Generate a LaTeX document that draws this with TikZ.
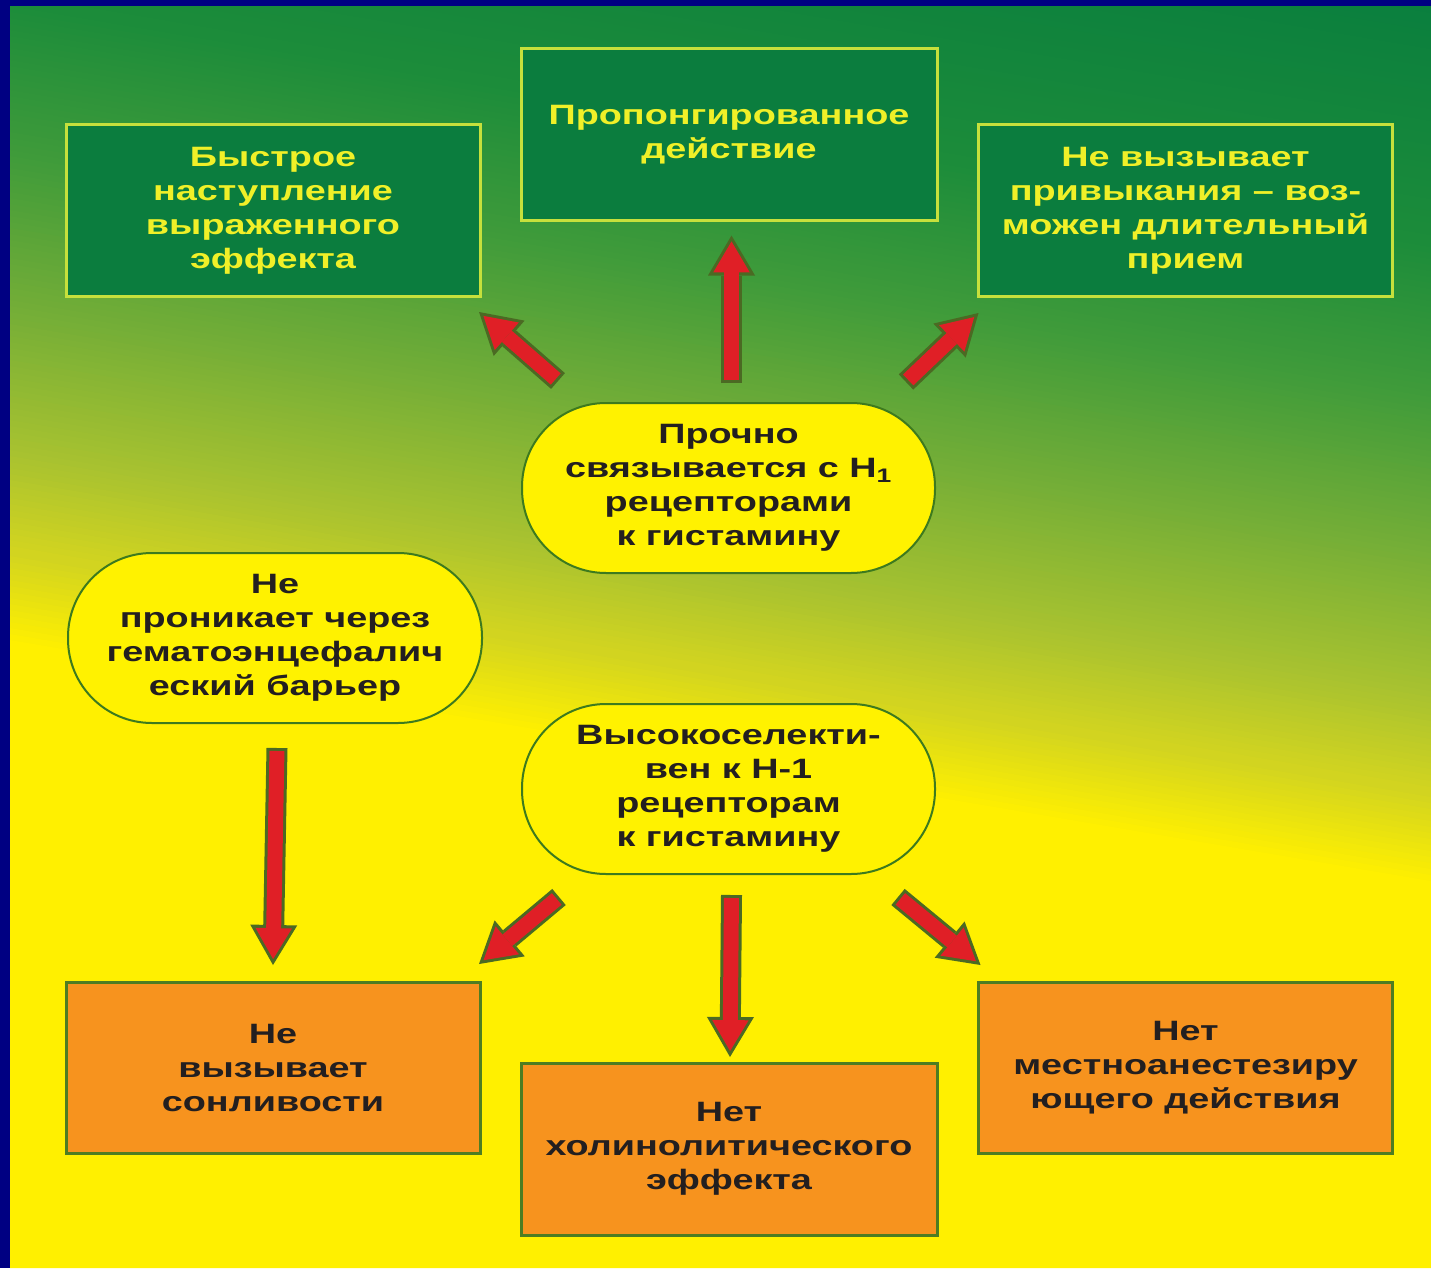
\documentclass[tikz,border=0pt]{standalone}
\usepackage{fontspec}
\setmainfont{Liberation Sans}[FakeStretch=1.35]
\usetikzlibrary{arrows.meta}

\definecolor{navyedge}{HTML}{000082}
\definecolor{bgyellow}{HTML}{FFF000}
\definecolor{bgs0}{HTML}{0A7F3E}
\definecolor{bgs1}{HTML}{1C8C3A}
\definecolor{bgs2}{HTML}{3F9B3A}
\definecolor{bgs3}{HTML}{72AD37}
\definecolor{bgs4}{HTML}{A8C230}
\definecolor{bgs5}{HTML}{D2D420}
\definecolor{topfill}{HTML}{0B7D3E}
\definecolor{topedge}{HTML}{C6E03C}
\definecolor{toptext}{HTML}{F0F028}
\definecolor{ellfill}{HTML}{FFF200}
\definecolor{elledge}{HTML}{3D7A1E}
\definecolor{botfill}{HTML}{F7931E}
\definecolor{botedge}{HTML}{4E7D22}
\definecolor{darktext}{HTML}{231F20}
\definecolor{arrowred}{HTML}{E01F26}
\definecolor{arrowedge}{HTML}{4B6A23}

\newcommand{\redarrow}[2]{%
  \draw[arrowback] #1 -- #2;
  \draw[arrowfront] #1 -- #2;}

\begin{document}
\begin{tikzpicture}[x=1pt, y=1pt, yscale=-1, inner sep=0pt, outer sep=0pt,
  boxtext/.style={align=center, font=\fontsize{28}{34}\selectfont\bfseries},
  greenbox/.style={boxtext, draw=topedge, line width=3pt, fill=topfill,
    text=toptext, minimum width=414pt, minimum height=171pt},
  orangebox/.style={boxtext, draw=botedge, line width=3pt, fill=botfill,
    text=darktext, minimum width=414pt, minimum height=171pt},
  oval/.style={boxtext, draw=elledge, line width=2pt, fill=ellfill,
    text=darktext, rounded corners=84pt, minimum width=413pt,
    minimum height=170pt},
  arrowback/.style={draw=arrowedge, line width=21pt,
    -{Triangle[width=47pt,length=40pt,line width=0pt]}},
  arrowfront/.style={draw=arrowred, line width=15pt, shorten <=3pt,
    shorten >=5.9pt, -{Triangle[width=36.5pt,length=31pt,line width=0pt]}}]
\useasboundingbox (0,0) rectangle (1431,1268);
\fill[navyedge] (0,0) rectangle (1431,1268);
\begin{scope}
\clip (10,7) rectangle (1431,1268);
\fill[bgyellow] (10,630) -- (1431,871) -- (1431,1268) -- (10,1268) -- cycle;
\foreach \a/\b/\ca/\cb in {-240/0/bgs0/bgs1, 0/150/bgs1/bgs2, 150/300/bgs2/bgs3,
    300/450/bgs3/bgs4, 450/550/bgs4/bgs5, 550/640/bgs5/bgyellow}{
  \pgfmathtruncatemacro\n{(\b-\a)/6}
  \foreach \i in {0,...,\n}{
    \pgfmathtruncatemacro\p{\a+6*\i}
    \pgfmathtruncatemacro\f{min(100,100*\i/\n)}
    \fill[\cb!\f!\ca] (10,\p) -- (1431,\p+241) -- (1431,\p+248) -- (10,\p+7) -- cycle;
  }
}
\end{scope}

\node[greenbox] (tl) at (273,210.5) {Быстрое\\наступление\\выраженного\\эффекта};
\node[greenbox, minimum width=416pt] (tc) at (729,134.5) {Пропонгированное\\действие};
\node[greenbox] (tr) at (1185.5,210.5) {Не вызывает\\привыкания – воз-\\можен длительный\\прием};
\node[oval] (e1) at (728.5,488) {Прочно\\связывается с Н\textsubscript{1}\\рецепторами\\к гистамину};
\node[oval, minimum width=414pt] (el) at (275,638) {Не\\проникает через\\гематоэнцефалич\\еский барьер};
\node[oval] (e2) at (728.5,789) {Высокоселекти-\\вен к Н-1\\рецепторам\\к гистамину};
\node[orangebox] (bl) at (273,1067.5) {Не\\вызывает\\сонливости};
\node[orangebox, minimum width=416pt, minimum height=172pt] (bc) at (729,1149) {Нет\\холинолитического\\эффекта};
\node[orangebox] (br) at (1185.5,1067.5) {Нет\\местноанестезиру\\ющего действия};

\redarrow{([shift={(3,-20)}]e1.north)}{([shift={(2.5,15.5)}]tc.south)}
\redarrow{([shift={(36,-22)}]e1.north west)}{([shift={(-1,16)}]tl.south east)}
\redarrow{([shift={(-29,-21)}]e1.north east)}{([shift={(0,17)}]tr.south west)}
\redarrow{([shift={(2,25)}]el.south)}{([shift={(0,-17)}]bl.north)}
\redarrow{([shift={(37,23)}]e2.south west)}{([shift={(-1,-18)}]bl.north east)}
\redarrow{([shift={(3,21)}]e2.south)}{([shift={(1,-6)}]bc.north)}
\redarrow{([shift={(-37,23)}]e2.south east)}{([shift={(2,-17)}]br.north west)}

\end{tikzpicture}
\end{document}
